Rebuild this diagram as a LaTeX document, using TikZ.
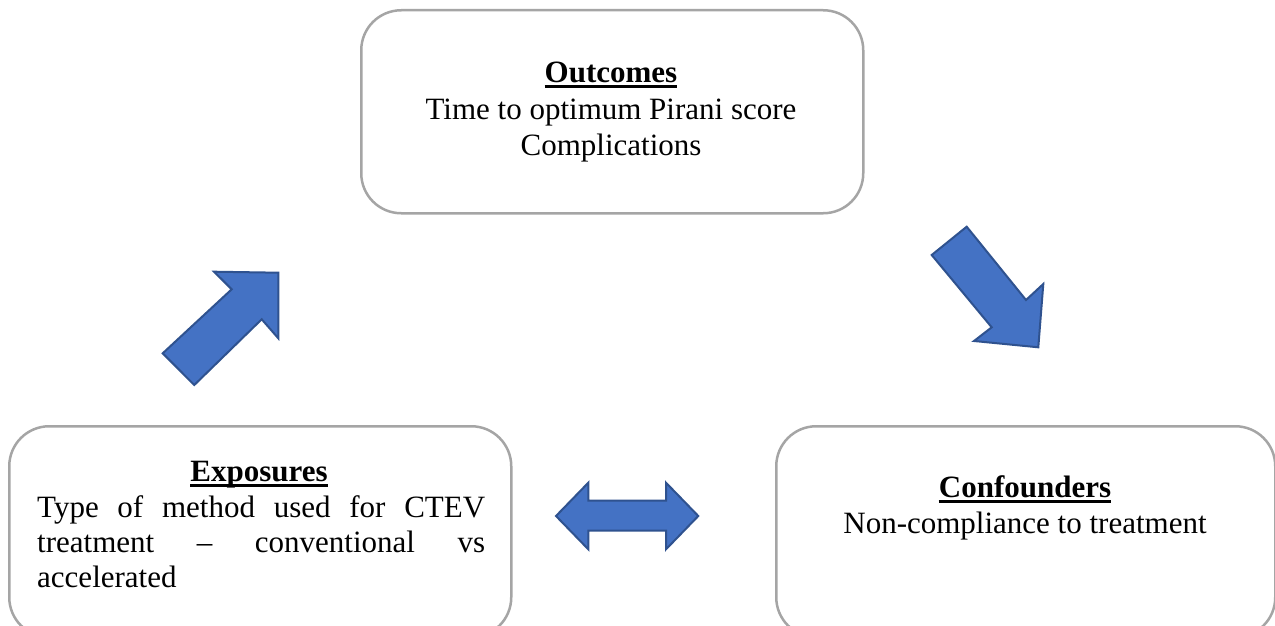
\documentclass[tikz,border=0pt]{standalone}
\usepackage{fontspec}
\setmainfont{Liberation Serif}
\definecolor{arrowfill}{HTML}{4472C4}
\definecolor{arrowline}{HTML}{2F528F}
\definecolor{boxline}{HTML}{A5A5A5}
\begin{document}
\begin{tikzpicture}[x=1pt,y=-1pt,
  box/.style={draw=boxline, line width=2.5pt, rounded corners=40pt, fill=white, anchor=north west, inner sep=0pt},
  blockarrow/.style={fill=arrowfill, draw=arrowline, line width=2pt, line join=miter},
  txt/.style={inner sep=0pt, anchor=base, font=\fontsize{31}{36}\selectfont},
  head/.style={inner sep=0pt, anchor=base, font=\fontsize{31}{36}\selectfont\bfseries},
  ul/.style={line width=3pt}]
\useasboundingbox (0,0) rectangle (1275,626);
\clip (0,0) rectangle (1275,626);
\fill[white] (0,0) rectangle (1275,626);

% boxes
\node[box, minimum width=502pt, minimum height=203pt] (outbox) at (360,9) {};
\node[box, minimum width=502pt, minimum height=211pt] (expbox) at (8,425) {};
\node[box, minimum width=499pt, minimum height=211pt] (conbox) at (775,425) {};

% outcomes text
\node[head] (outh) at (611,82) {Outcomes};
\draw[ul] ([yshift=-4.5pt]outh.base west) -- ([yshift=-4.5pt]outh.base east);
\node[txt] (out1) at (611,119) {Time to optimum Pirani score};
\node[txt] (out2) at (611,155) {Complications};

% exposures text
\node[head] (exph) at (259,481) {Exposures};
\draw[ul] ([yshift=-4.5pt]exph.base west) -- ([yshift=-4.5pt]exph.base east);
\node[txt, anchor=base west] (exp1) at (37,517) {\makebox[448pt][s]{Type of method used for CTEV}};
\node[txt, anchor=base west] (exp2) at (37,552) {\makebox[448pt][s]{treatment -- conventional vs}};
\node[txt, anchor=base west] (exp3) at (37,587) {accelerated};

% confounders text
\node[head] (conh) at (1025,497) {Confounders};
\draw[ul] ([yshift=-4.5pt]conh.base west) -- ([yshift=-4.5pt]conh.base east);
\node[txt] (con1) at (1025,533) {Non-compliance to treatment};

% block arrows
\draw[blockarrow] (162.7,353.3) -- (194.3,385) -- (261.7,319.3) -- (278.3,338.3)
  -- (278.3,272.7) -- (214,271.7) -- (231.7,289.3) -- cycle;
\draw[blockarrow] (966.7,226.7) -- (1026,300) -- (1043.3,284) -- (1038.3,347.3)
  -- (974,341) -- (991.7,327.3) -- (931.7,255) -- cycle;
\draw[blockarrow] (556,516) -- (588.3,482.7) -- (588.3,500.7) -- (666,500.7)
  -- (666,482.7) -- (698.3,516) -- (666,549.3) -- (666,530.7)
  -- (588.3,530.7) -- (588.3,549.3) -- cycle;
\end{tikzpicture}
\end{document}
